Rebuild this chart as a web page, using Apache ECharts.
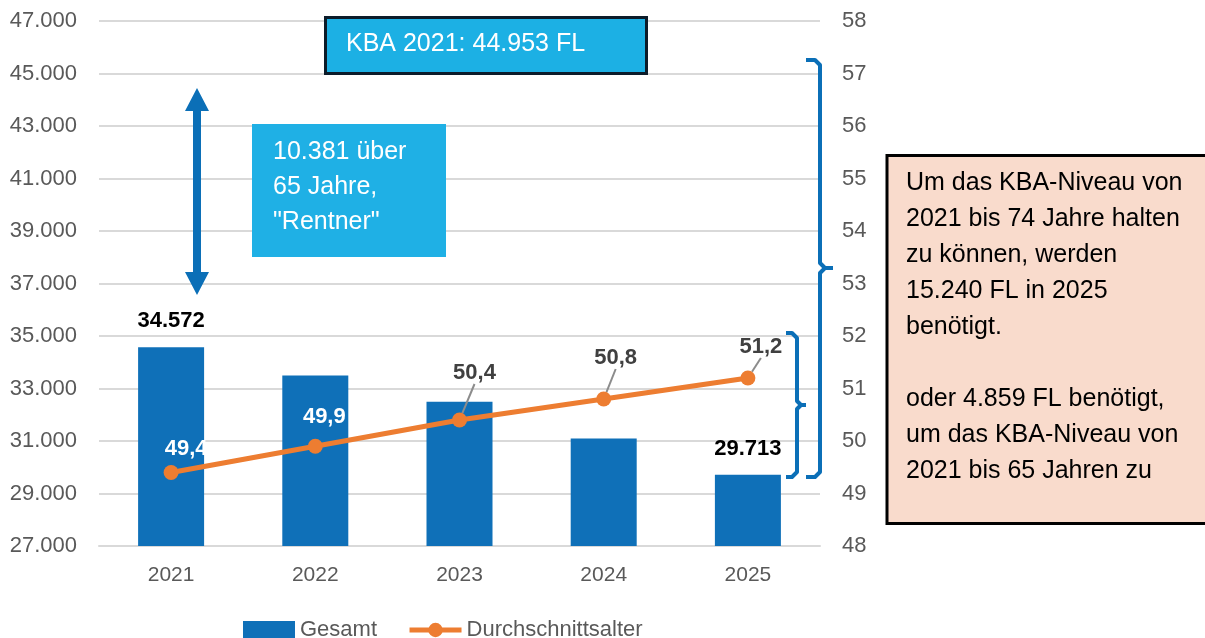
<!DOCTYPE html>
<html>
<head>
<meta charset="utf-8">
<script src="https://cdn.jsdelivr.net/npm/echarts@6/dist/echarts.min.js"></script>
<style>
  html, body { margin: 0; padding: 0; background: #fff; }
  #chart { width: 1205px; height: 638px; }
</style>
</head>
<body>
<div id="chart"></div>
<script>
// data
var years = ['2021', '2022', '2023', '2024', '2025'];
var gesamt = [34572, 33500, 32500, 31100, 29713];
var durchschnittsalter = [49.4, 49.9, 50.4, 50.8, 51.2];
var gesamtMitLabel = [0, 4];
var leftMin = 27000, leftMax = 47000, leftStep = 2000;
var rightMin = 48, rightMax = 58, rightStep = 1;

var FONT = '"Liberation Sans", Arial, sans-serif';
var BLUE = '#0f70b8';
var ORANGE = '#ed7d31';
var GREY = '#595959';

// label offsets of the age line (px from point), white labels sit on the bars
var alterLabelShift = [[15, -24], [9, -29], [15, -47], [12, -41], [13, -31]];
var alterLabelWhite = [true, true, false, false, false];

function tausend(v) {
  return String(Math.round(v)).replace(/\B(?=(\d{3})+(?!\d))/g, '.');
}
function komma(v) {
  return v.toFixed(1).replace('.', ',');
}

var chart = echarts.init(document.getElementById('chart'));

var barData = gesamt.map(function (v, i) {
  var show = gesamtMitLabel.indexOf(i) >= 0;
  return { value: v, label: { show: show } };
});

var lineData = durchschnittsalter.map(function (v, i) {
  var white = alterLabelWhite[i];
  return {
    value: v,
    label: { color: white ? '#ffffff' : '#404040' },
    labelLine: { show: !white }
  };
});

var bracketStyle = { stroke: '#0b6fb7', lineWidth: 4, fill: null, lineJoin: 'round', lineCap: 'butt' };

chart.setOption({
  animation: false,
  textStyle: { fontFamily: FONT },
  grid: { left: 99, right: 385, top: 21, bottom: 92 },
  legend: {
    left: 243, top: 619, padding: 0,
    itemWidth: 52, itemHeight: 18, itemGap: 30,
    textStyle: { fontSize: 22, color: GREY, fontFamily: FONT },
    data: [
      { name: 'Gesamt', icon: 'rect' },
      { name: 'Durchschnittsalter', lineStyle: { width: 5 } }
    ]
  },
  xAxis: {
    type: 'category',
    data: years,
    axisLine: { lineStyle: { color: '#d9d9d9', width: 2 } },
    axisTick: { show: false },
    axisLabel: { fontSize: 21, color: GREY, margin: 19, fontFamily: FONT }
  },
  yAxis: [
    {
      type: 'value',
      min: leftMin, max: leftMax, interval: 1000,
      axisLine: { show: false },
      axisTick: { show: false },
      splitLine: { show: false },
      axisLabel: {
        fontSize: 22, color: GREY, margin: 22, fontFamily: FONT,
        formatter: function (v) {
          return (v - leftMin) % leftStep === 0 ? tausend(v) : '';
        }
      }
    },
    {
      type: 'value',
      min: rightMin, max: rightMax, interval: rightStep,
      axisLine: { show: false },
      axisTick: { show: false },
      splitLine: { lineStyle: { color: '#d9d9d9', width: 2 } },
      axisLabel: { fontSize: 22, color: GREY, margin: 22, fontFamily: FONT }
    }
  ],
  series: [
    {
      name: 'Gesamt',
      type: 'bar',
      yAxisIndex: 0,
      barWidth: 66,
      itemStyle: { color: BLUE },
      label: {
        show: false, position: 'top', distance: 15,
        fontSize: 22, fontWeight: 'bold', color: '#000', fontFamily: FONT,
        formatter: function (p) { return tausend(p.value); }
      },
      data: barData
    },
    {
      name: 'Durchschnittsalter',
      type: 'line',
      yAxisIndex: 1,
      symbol: 'circle',
      symbolSize: 15,
      lineStyle: { color: ORANGE, width: 5 },
      itemStyle: { color: ORANGE },
      label: {
        show: true, position: 'inside',
        fontSize: 22, fontWeight: 'bold', fontFamily: FONT,
        formatter: function (p) { return komma(p.value); }
      },
      labelLine: { show: true, lineStyle: { color: '#8c8c8c', width: 2 } },
      labelLayout: function (p) {
        var s = alterLabelShift[p.dataIndex];
        return { dx: s[0], dy: s[1] };
      },
      data: lineData,
      z: 5
    }
  ],
  graphic: [
    // KBA box
    {
      type: 'rect', z: 100, shape: { x: 325.5, y: 17.5, width: 321, height: 56 },
      style: { fill: '#1cb0e4', stroke: '#0c1c2a', lineWidth: 3 }
    },
    {
      type: 'text', z: 101, left: 346, top: 32,
      style: { text: 'KBA 2021: 44.953 FL', fill: '#fff', fontSize: 25, fontFamily: FONT }
    },
    // Rentner box
    {
      type: 'rect', z: 100, shape: { x: 252, y: 124, width: 194, height: 133 },
      style: { fill: '#1fb0e5' }
    },
    {
      type: 'text', z: 101, left: 273, top: 135,
      style: {
        text: '10.381 über\n65 Jahre,\n"Rentner"', fill: '#fff',
        fontSize: 25, lineHeight: 35, fontFamily: FONT
      }
    },
    // double arrow
    {
      type: 'polygon', z: 100,
      shape: { points: [[197, 88], [209, 111], [201, 111], [201, 272], [209, 272], [197, 295],
                        [185, 272], [193, 272], [193, 111], [185, 111]] },
      style: { fill: '#0b6fb7' }
    },
    // big bracket
    {
      type: 'polyline', z: 100,
      shape: { points: [[806, 60], [815, 60], [820, 65], [820, 263], [825, 268], [833, 268]] },
      style: bracketStyle
    },
    {
      type: 'polyline', z: 100,
      shape: { points: [[833, 268], [825, 268], [820, 273], [820, 472], [815, 477], [806, 477]] },
      style: bracketStyle
    },
    // small bracket
    {
      type: 'polyline', z: 100,
      shape: { points: [[786, 333], [792, 333], [797, 338], [797, 401], [801, 405], [806, 405]] },
      style: bracketStyle
    },
    {
      type: 'polyline', z: 100,
      shape: { points: [[806, 405], [801, 405], [797, 409], [797, 472], [792, 477], [786, 477]] },
      style: bracketStyle
    },
    // pink note
    {
      type: 'rect', z: 100, shape: { x: 887, y: 155.5, width: 330, height: 368 },
      style: { fill: '#f9dbcc', stroke: '#000', lineWidth: 3 }
    },
    {
      type: 'text', z: 101, left: 906, top: 165,
      style: {
        text: 'Um das KBA-Niveau von\n2021 bis 74 Jahre halten\nzu können, werden\n15.240 FL in 2025\nbenötigt.\n\noder 4.859 FL benötigt,\num das KBA-Niveau von\n2021 bis 65 Jahren zu',
        fill: '#000', fontSize: 25, lineHeight: 36, fontFamily: FONT
      }
    }
  ]
});
</script>
</body>
</html>
